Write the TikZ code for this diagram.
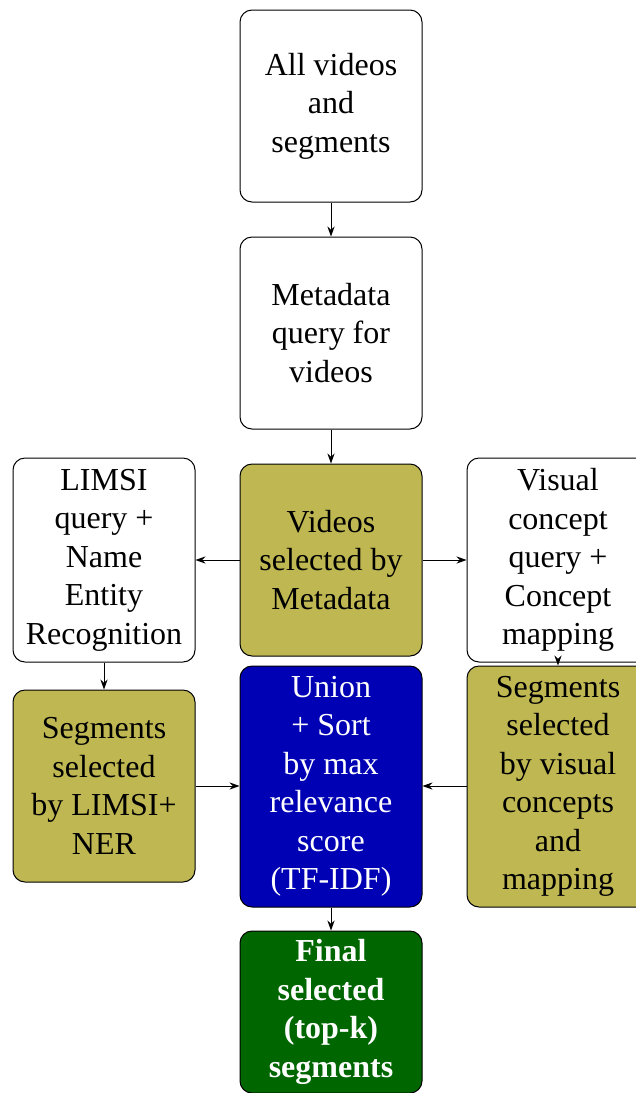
\documentclass[tikz,border=0pt]{standalone}
\usepackage{fontspec}
\setmainfont{Liberation Serif}
\usetikzlibrary{arrows.meta}
\definecolor{olivefill}{RGB}{191,183,82}
\definecolor{unionblue}{RGB}{0,0,180}
\definecolor{finalgreen}{RGB}{0,102,0}
\begin{document}
\begin{tikzpicture}[
  box/.style={draw, rounded corners=6pt, line width=0.5pt,
    minimum width=91pt, minimum height=96pt, inner sep=3pt,
    align=center, font=\fontsize{16}{19.25}\selectfont},
  tall/.style={minimum height=102pt},
  taller/.style={minimum height=120.5pt},
  olivebox/.style={box, fill=olivefill},
  bluebox/.style={box, fill=unionblue, text=white},
  greenbox/.style={box, fill=finalgreen, text=white, minimum height=81pt,
    font=\fontsize{16}{19.25}\selectfont\bfseries},
  arr/.style={-{Stealth[length=5pt,width=3.6pt]}, line width=0.5pt}
]
\useasboundingbox (0,0) rectangle (318pt,-546.5pt);

% main column
\node[box] (all) at (165.5pt,-53pt) {All videos\\and\\segments};
\node[box] (meta) at (165.5pt,-166.5pt) {Metadata\\query for\\videos};
\node[olivebox] (sel) at (165.5pt,-280pt) {Videos\\selected by\\Metadata};
\node[bluebox, taller] (union) at (165.5pt,-393.25pt)
  {Union\\+ Sort\\by max\\relevance\\score\\(TF-IDF)};
\node[greenbox] (final) at (165.5pt,-506pt)
  {Final\\selected\\(top-k)\\segments};

% left branch
\node[box, tall] (limsi) at (52pt,-280pt)
  {LIMSI\\query +\\Name\\Entity\\Recognition};
\node[olivebox] (seglimsi) at (52pt,-393pt)
  {Segments\\selected\\by LIMSI+\\NER};

% right branch
\node[box, tall] (visual) at (279pt,-280pt)
  {Visual\\concept\\query +\\Concept\\mapping};
\node[olivebox, taller] (segvis) at (279pt,-393.25pt)
  {Segments\\selected\\by visual\\concepts\\and\\mapping};

% connectors
\draw[arr] (all) -- (meta);
\draw[arr] (meta) -- (sel);
\draw[arr] (sel) -- (limsi);
\draw[arr] (sel) -- (visual);
\draw[arr] (limsi) -- (seglimsi);
\draw[arr] (visual) -- (segvis);
\draw[arr] (seglimsi.east) -- (seglimsi.east -| union.west);
\draw[arr] (segvis.west |- seglimsi.east) -- (seglimsi.east -| union.east);
\draw[arr] (union) -- (final);
\end{tikzpicture}
\end{document}
